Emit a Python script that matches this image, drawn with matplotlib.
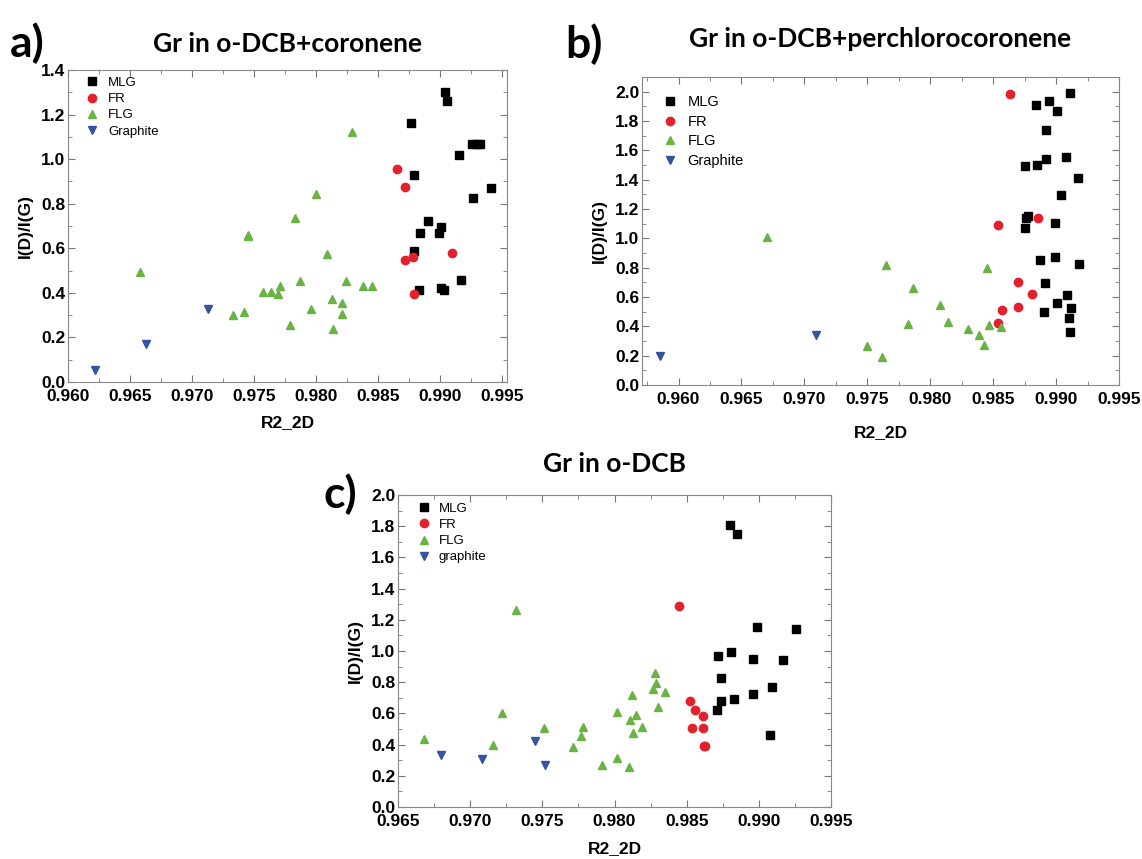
import matplotlib
matplotlib.use("Agg")
import matplotlib.pyplot as plt
from matplotlib.ticker import MultipleLocator

plt.rcParams['font.family'] = ['Liberation Sans', 'DejaVu Sans']

# panel a: Gr in o-DCB+coronene
a_mlg_x = [0.9904, 0.9906, 0.9877, 0.9926, 0.9930, 0.9932, 0.9915, 0.9879, 0.9941, 0.9927,
           0.9890, 0.9901, 0.9899, 0.9884, 0.9879, 0.9917, 0.9883, 0.9901, 0.9903]
a_mlg_y = [1.30, 1.26, 1.16, 1.07, 1.067, 1.066, 1.02, 0.93, 0.87, 0.825,
           0.723, 0.694, 0.667, 0.667, 0.586, 0.457, 0.414, 0.423, 0.414]
a_fr_x = [0.9865, 0.9872, 0.9872, 0.9878, 0.9879, 0.9910]
a_fr_y = [0.955, 0.876, 0.547, 0.562, 0.393, 0.581]
a_flg_x = [0.9658, 0.9733, 0.9742, 0.9745, 0.9745, 0.9757, 0.9764, 0.9769, 0.9771, 0.9787,
           0.9783, 0.9800, 0.9829, 0.9809, 0.9824, 0.9838, 0.9845, 0.9813, 0.9821, 0.9821,
           0.9796, 0.9779, 0.9814]
a_flg_y = [0.492, 0.302, 0.312, 0.653, 0.661, 0.404, 0.404, 0.396, 0.433, 0.454,
           0.738, 0.843, 1.124, 0.575, 0.454, 0.429, 0.433, 0.374, 0.354, 0.305,
           0.329, 0.254, 0.239]
a_gra_x = [0.9622, 0.9663, 0.9713]
a_gra_y = [0.055, 0.172, 0.327]

# panel b: Gr in o-DCB+perchlorocoronene
b_mlg_x = [0.9911, 0.9894, 0.9884, 0.9901, 0.9892, 0.9908, 0.9892, 0.9885, 0.9875, 0.9917,
           0.9904, 0.9878, 0.9876, 0.9899, 0.9875, 0.9899, 0.9887, 0.9918, 0.9891, 0.9909,
           0.9901, 0.9912, 0.9890, 0.9910, 0.9911]
b_mlg_y = [1.99, 1.936, 1.909, 1.87, 1.74, 1.556, 1.54, 1.501, 1.49, 1.41,
           1.296, 1.153, 1.137, 1.103, 1.073, 0.87, 0.852, 0.822, 0.697, 0.613,
           0.556, 0.524, 0.497, 0.456, 0.36]
b_fr_x = [0.9863, 0.9854, 0.9886, 0.9870, 0.9881, 0.9870, 0.9857, 0.9854]
b_fr_y = [1.984, 1.091, 1.141, 0.699, 0.620, 0.535, 0.510, 0.424]
b_flg_x = [0.9670, 0.9765, 0.9786, 0.9750, 0.9762, 0.9782, 0.9808, 0.9814, 0.9830, 0.9839,
           0.9843, 0.9847, 0.9856, 0.9845]
b_flg_y = [1.009, 0.815, 0.663, 0.264, 0.194, 0.419, 0.547, 0.431, 0.380, 0.344,
           0.276, 0.410, 0.396, 0.795]
b_gra_x = [0.9585, 0.9709]
b_gra_y = [0.200, 0.339]

# panel c: Gr in o-DCB
c_mlg_x = [0.9880, 0.9885, 0.9899, 0.9926, 0.9881, 0.9872, 0.9896, 0.9917, 0.9874, 0.9909,
           0.9896, 0.9883, 0.9874, 0.9871, 0.9908]
c_mlg_y = [1.810, 1.748, 1.157, 1.144, 0.993, 0.969, 0.952, 0.943, 0.830, 0.772,
           0.727, 0.695, 0.680, 0.620, 0.462]
c_fr_x = [0.9845, 0.9852, 0.9856, 0.9861, 0.9854, 0.9861, 0.9862, 0.9863]
c_fr_y = [1.288, 0.680, 0.625, 0.584, 0.509, 0.509, 0.391, 0.391]
c_flg_x = [0.9668, 0.9716, 0.9722, 0.9732, 0.9751, 0.9771, 0.9777, 0.9778, 0.9791, 0.9802,
           0.9810, 0.9802, 0.9812, 0.9811, 0.9815, 0.9813, 0.9819, 0.9828, 0.9829, 0.9827,
           0.9835, 0.9830]
c_flg_y = [0.434, 0.400, 0.605, 1.266, 0.509, 0.385, 0.456, 0.513, 0.272, 0.317,
           0.257, 0.612, 0.717, 0.556, 0.593, 0.477, 0.511, 0.856, 0.794, 0.759,
           0.740, 0.642]
c_gra_x = [0.9680, 0.9708, 0.9745, 0.9752]
c_gra_y = [0.332, 0.310, 0.421, 0.267]

col_mlg = "black"
col_fr = "#e3212b"
col_flg = "#69b345"
col_gra = "#35539f"
title_font = ['Lato', 'DejaVu Sans']

fig = plt.figure(figsize=(11.42, 8.59), dpi=100)


def panel(rect, data, gra_label, xlim, ylim, title, title_y, letter, letter_pos,
          xlabelpad, leg_anchor, leg_size, leg_space, leg_textpad):
    ax = fig.add_axes(rect)
    mx, my, fx, fy, gx, gy, bx, by = data
    ax.plot(mx, my, ls="none", marker="s", ms=5.2, color=col_mlg, label="MLG")
    ax.plot(fx, fy, ls="none", marker="o", ms=6, color=col_fr, label="FR")
    ax.plot(gx, gy, ls="none", marker="^", ms=6.3, color=col_flg, label="FLG")
    ax.plot(bx, by, ls="none", marker="v", ms=6.3, color=col_gra, label=gra_label)
    ax.set_xlim(*xlim)
    ax.set_ylim(*ylim)
    ax.xaxis.set_major_locator(MultipleLocator(0.005))
    ax.xaxis.set_minor_locator(MultipleLocator(0.0025))
    ax.yaxis.set_major_locator(MultipleLocator(0.2))
    ax.yaxis.set_minor_locator(MultipleLocator(0.1))
    ax.xaxis.set_major_formatter(plt.FormatStrFormatter('%.3f'))
    ax.yaxis.set_major_formatter(plt.FormatStrFormatter('%.1f'))
    ax.tick_params(which="both", direction="in", top=True, right=True,
                   color="#777777", labelsize=12.5)
    ax.tick_params(axis="x", pad=5)
    ax.tick_params(axis="y", pad=2)
    ax.tick_params(which="major", length=5)
    ax.tick_params(which="minor", length=3)
    for lab in ax.get_xticklabels() + ax.get_yticklabels():
        lab.set_fontweight("bold")
    for sp in ax.spines.values():
        sp.set_color("#888888")
    ax.set_xlabel("R2_2D", fontsize=12.5, fontweight="bold", labelpad=xlabelpad)
    ax.set_ylabel("I(D)/I(G)", fontsize=12.5, fontweight="bold", labelpad=6)
    ax.legend(loc="upper left", bbox_to_anchor=leg_anchor, borderaxespad=0,
              frameon=False, fontsize=leg_size, handletextpad=leg_textpad,
              labelspacing=leg_space, handlelength=1.2)
    ax.set_title(title, fontsize=19, fontweight="bold", family=title_font, y=title_y)
    fig.text(letter_pos[0], letter_pos[1], letter, fontsize=32, fontweight="bold",
             family=title_font, ha="left", va="center")
    return ax


panel([0.0595, 0.5553, 0.3844, 0.3632],
      (a_mlg_x, a_mlg_y, a_fr_x, a_fr_y, a_flg_x, a_flg_y, a_gra_x, a_gra_y),
      "Graphite", (0.960, 0.9954), (0.0, 1.4),
      "Gr in o-DCB+coronene", 1.031, "a)", (0.009, 0.95),
      8, (0.025, 0.995), 9.5, 0.3, 0.6)

panel([0.5622, 0.5518, 0.4177, 0.3586],
      (b_mlg_x, b_mlg_y, b_fr_x, b_fr_y, b_flg_x, b_flg_y, b_gra_x, b_gra_y),
      "Graphite", (0.9571, 0.995), (0.0, 2.1),
      "Gr in o-DCB+perchlorocoronene", 1.07, "b)", (0.495, 0.948),
      13, (0.028, 0.961), 10.5, 0.4, 0.6)

panel([0.3485, 0.0605, 0.3792, 0.3632],
      (c_mlg_x, c_mlg_y, c_fr_x, c_fr_y, c_flg_x, c_flg_y, c_gra_x, c_gra_y),
      "graphite", (0.965, 0.995), (0.0, 2.0),
      "Gr in o-DCB", 1.047, "c)", (0.283, 0.425),
      9, (0.03, 0.993), 9.5, 0.3, 0.5)

fig.savefig("out.png", dpi=100)
